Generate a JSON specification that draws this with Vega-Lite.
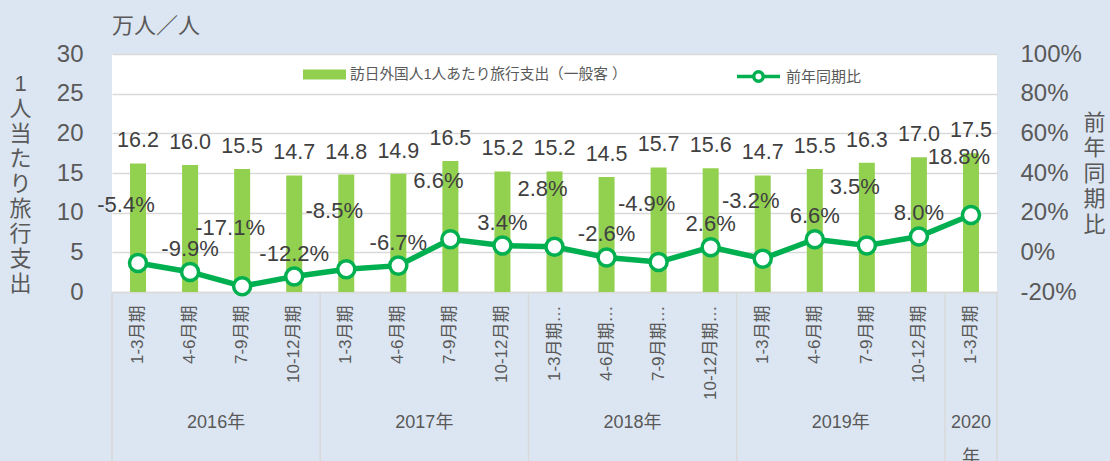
{
  "$schema": "https://vega.github.io/schema/vega-lite/v6.json",
  "width": 885,
  "height": 238,
  "autosize": {"type": "none"},
  "padding": {"left": 112, "top": 54, "right": 113, "bottom": 169},
  "background": "#dce6f2",
  "config": {
    "font": "Liberation Sans, Noto Sans CJK JP, sans-serif",
    "view": {"fill": "white", "stroke": null},
    "axis": {"labelOverlap": false, "labelSeparation": 0},
    "locale": {
      "number": {"decimal": ".", "thousands": ",", "grouping": [3], "currency": ["", ""], "minus": "-"}
    }
  },
  "title": {
    "text": "万人／人",
    "anchor": "start",
    "frame": "group",
    "fontSize": 22,
    "fontWeight": "normal",
    "color": "#595959",
    "offset": 4
  },
  "data": {
    "values": [
      {"year": "2016年", "quarter": "1-3月期", "key": "2016 1-3月期", "spend": 16.2, "yoy": -0.054},
      {"year": "2016年", "quarter": "4-6月期", "key": "2016 4-6月期", "spend": 16.0, "yoy": -0.099},
      {"year": "2016年", "quarter": "7-9月期", "key": "2016 7-9月期", "spend": 15.5, "yoy": -0.171},
      {"year": "2016年", "quarter": "10-12月期", "key": "2016 10-12月期", "spend": 14.7, "yoy": -0.122},
      {"year": "2017年", "quarter": "1-3月期", "key": "2017 1-3月期", "spend": 14.8, "yoy": -0.085},
      {"year": "2017年", "quarter": "4-6月期", "key": "2017 4-6月期", "spend": 14.9, "yoy": -0.067},
      {"year": "2017年", "quarter": "7-9月期", "key": "2017 7-9月期", "spend": 16.5, "yoy": 0.066},
      {"year": "2017年", "quarter": "10-12月期", "key": "2017 10-12月期", "spend": 15.2, "yoy": 0.034},
      {"year": "2018年", "quarter": "1-3月期", "key": "2018 1-3月期…", "spend": 15.2, "yoy": 0.028},
      {"year": "2018年", "quarter": "4-6月期", "key": "2018 4-6月期…", "spend": 14.5, "yoy": -0.026},
      {"year": "2018年", "quarter": "7-9月期", "key": "2018 7-9月期…", "spend": 15.7, "yoy": -0.049},
      {"year": "2018年", "quarter": "10-12月期", "key": "2018 10-12月期…", "spend": 15.6, "yoy": 0.026},
      {"year": "2019年", "quarter": "1-3月期", "key": "2019 1-3月期", "spend": 14.7, "yoy": -0.032},
      {"year": "2019年", "quarter": "4-6月期", "key": "2019 4-6月期", "spend": 15.5, "yoy": 0.066},
      {"year": "2019年", "quarter": "7-9月期", "key": "2019 7-9月期", "spend": 16.3, "yoy": 0.035},
      {"year": "2019年", "quarter": "10-12月期", "key": "2019 10-12月期", "spend": 17.0, "yoy": 0.080},
      {"year": "2020年", "quarter": "1-3月期", "key": "2020 1-3月期", "spend": 17.5, "yoy": 0.188}
    ]
  },
  "encoding": {
    "x": {
      "field": "key",
      "type": "nominal",
      "sort": null,
      "scale": {"paddingInner": 0, "paddingOuter": 0},
      "axis": {
        "title": null,
        "labelAngle": -90,
        "labelExpr": "split(datum.value, ' ')[1]",
        "labelFontSize": 17,
        "labelColor": "#595959",
        "labelPadding": 13,
        "ticks": false,
        "domainColor": "#d9d9d9",
        "domainWidth": 1.5,
        "grid": false,
        "labelLimit": 200
      }
    }
  },
  "layer": [
    {
      "layer": [
        {
          "mark": {"type": "bar", "width": 16, "color": "#92d050"},
          "encoding": {
            "y": {
              "field": "spend",
              "type": "quantitative",
              "scale": {"domain": [0, 30], "nice": false},
              "axis": {
                "values": [0, 5, 10, 15, 20, 25, 30],
                "labelOverlap": false,
                "title": ["1", "人", "当", "た", "り", "旅", "行", "支", "出"],
                "titleAngle": 0,
                "titleX": -92,
                "titleY": 29,
                "titleAlign": "center",
                "titleBaseline": "middle",
                "titleFontSize": 22,
                "titleFontWeight": "normal",
                "titleColor": "#595959",
                "titleLineHeight": 25,
                "labelFontSize": 24,
                "labelColor": "#595959",
                "labelPadding": 29,
                "ticks": false,
                "domain": false,
                "grid": true,
                "gridColor": "#d9d9d9",
                "gridWidth": 1.5
              }
            },
            "color": {
              "datum": "訪日外国人1人あたり旅行支出（一般客 ）",
              "scale": {"range": ["#92d050"]},
              "legend": {
                "orient": "none",
                "legendX": 191,
                "legendY": -1,
                "title": null,
                "padding": 0,
                "labelFontSize": 14.7,
                "labelColor": "#595959",
                "labelOffset": 4,
                "labelLimit": 400,
                "symbolSize": 1849,
                "symbolType": "M-1,-0.23H1V0.23H-1Z",
                "symbolStrokeWidth": 0
              }
            }
          }
        },
        {
          "mark": {"type": "text", "dy": -22, "fontSize": 21.5, "color": "#404040", "baseline": "middle"},
          "encoding": {
            "y": {"field": "spend", "type": "quantitative", "axis": {"labelOverlap": false, "values": [0, 5, 10, 15, 20, 25, 30]}},
            "text": {"field": "spend", "type": "quantitative", "format": ".1f"}
          }
        },
        {
          "transform": [{"filter": "datum.quarter == '1-3月期'"}],
          "mark": {"type": "rule", "color": "#d9d9d9", "strokeWidth": 1.5, "clip": false},
          "encoding": {
            "x": {"field": "key", "type": "nominal", "bandPosition": 0},
            "y": {"datum": 0, "axis": {"labelOverlap": false, "values": [0, 5, 10, 15, 20, 25, 30]}},
            "y2": {"datum": -22}
          }
        },
        {
          "transform": [{"filter": "datum.year == '2020年'"}],
          "mark": {"type": "rule", "color": "#d9d9d9", "strokeWidth": 1.5, "clip": false},
          "encoding": {
            "x": {"field": "key", "type": "nominal", "bandPosition": 1},
            "y": {"datum": 0, "axis": {"labelOverlap": false, "values": [0, 5, 10, 15, 20, 25, 30]}},
            "y2": {"datum": -22}
          }
        },
        {
          "transform": [{"filter": "datum.quarter == '7-9月期'"}],
          "mark": {"type": "text", "fontSize": 18, "color": "#595959", "baseline": "middle"},
          "encoding": {
            "x": {"field": "key", "type": "nominal", "bandPosition": 0},
            "y": {"datum": -16.5, "axis": {"labelOverlap": false, "values": [0, 5, 10, 15, 20, 25, 30]}},
            "text": {"field": "year"}
          }
        },
        {
          "transform": [{"filter": "datum.year == '2020年'"}],
          "mark": {"type": "text", "fontSize": 18, "color": "#595959", "baseline": "middle", "lineHeight": 35},
          "encoding": {
            "y": {"datum": -16.5, "axis": {"labelOverlap": false, "values": [0, 5, 10, 15, 20, 25, 30]}},
            "text": {"value": ["2020", "年"]}
          }
        }
      ]
    },
    {
      "layer": [
        {
          "mark": {"type": "line", "strokeWidth": 5.5},
          "encoding": {
            "y": {
              "field": "yoy",
              "type": "quantitative",
              "scale": {"domain": [-0.2, 1.0], "nice": false},
              "axis": {
                "orient": "right",
                "values": [-0.2, 0, 0.2, 0.4, 0.6, 0.8, 1.0],
                "labelOverlap": false,
                "format": ".0%",
                "title": ["前", "年", "同", "期", "比"],
                "titleAngle": 0,
                "titleX": 97,
                "titleY": 68,
                "titleAlign": "center",
                "titleBaseline": "middle",
                "titleFontSize": 22,
                "titleFontWeight": "normal",
                "titleColor": "#595959",
                "titleLineHeight": 25.5,
                "labelFontSize": 24,
                "labelColor": "#595959",
                "labelPadding": 23,
                "ticks": false,
                "domain": false,
                "grid": false
              }
            },
            "color": {
              "datum": "前年同期比",
              "scale": {"range": ["#00b050"]},
              "legend": {
                "orient": "none",
                "legendX": 623,
                "legendY": -1,
                "title": null,
                "padding": 0,
                "labelFontSize": 15,
                "labelColor": "#595959",
                "labelOffset": 4,
                "labelLimit": 300,
                "symbolSize": 1849,
                "symbolType": "M-1,0H-0.22M0.22,0H1M-0.22,0A0.22,0.22,0,1,0,0.22,0A0.22,0.22,0,1,0,-0.22,0ZM-0.22,0A0.22,0.22,0,1,1,0.22,0A0.22,0.22,0,1,1,-0.22,0Z",
                "symbolFillColor": "white",
                "symbolStrokeWidth": 3.5
              }
            }
          }
        },
        {
          "mark": {"type": "point", "filled": true, "fill": "white", "stroke": "#00b050", "strokeWidth": 3.5, "size": 290, "opacity": 1},
          "encoding": {
            "y": {"field": "yoy", "type": "quantitative", "axis": {"orient": "right", "labelOverlap": false, "values": [-0.2, 0, 0.2, 0.4, 0.6, 0.8, 1.0]}}
          }
        },
        {
          "transform": [{"filter": "datum.quarter == '1-3月期' || datum.quarter == '7-9月期'"}],
          "mark": {"type": "text", "dy": -58, "dx": -12, "fontSize": 22, "color": "#404040", "baseline": "middle"},
          "encoding": {
            "y": {"field": "yoy", "type": "quantitative", "axis": {"orient": "right", "labelOverlap": false, "values": [-0.2, 0, 0.2, 0.4, 0.6, 0.8, 1.0]}},
            "text": {"field": "yoy", "type": "quantitative", "format": ".1%"}
          }
        },
        {
          "transform": [{"filter": "datum.quarter == '4-6月期' || datum.quarter == '10-12月期'"}],
          "mark": {"type": "text", "dy": -23, "dx": 0, "fontSize": 22, "color": "#404040", "baseline": "middle"},
          "encoding": {
            "y": {"field": "yoy", "type": "quantitative", "axis": {"orient": "right", "labelOverlap": false, "values": [-0.2, 0, 0.2, 0.4, 0.6, 0.8, 1.0]}},
            "text": {"field": "yoy", "type": "quantitative", "format": ".1%"}
          }
        }
      ]
    }
  ],
  "resolve": {"scale": {"y": "independent", "color": "independent"}}
}
